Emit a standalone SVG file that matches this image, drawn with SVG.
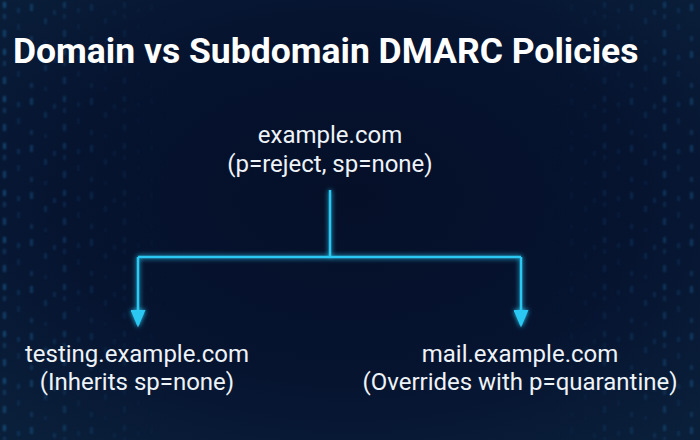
<svg xmlns="http://www.w3.org/2000/svg" width="700" height="440" viewBox="0 0 700 440">
  <defs>
    <radialGradient id="bg" cx="50%" cy="45%" r="70%">
      <stop offset="0" stop-color="#050f28"/>
      <stop offset="0.6" stop-color="#061430"/>
      <stop offset="1" stop-color="#0a1f3a"/>
    </radialGradient>
    <linearGradient id="sideFade" x1="0" y1="0" x2="1" y2="0">
      <stop offset="0" stop-color="#fff" stop-opacity="1"/>
      <stop offset="0.24" stop-color="#fff" stop-opacity="0"/>
      <stop offset="0.78" stop-color="#fff" stop-opacity="0"/>
      <stop offset="1" stop-color="#fff" stop-opacity="0.9"/>
    </linearGradient>
    <mask id="sideMask">
      <rect width="700" height="440" fill="url(#sideFade)"/>
    </mask>
    <pattern id="rain" width="60" height="47" patternUnits="userSpaceOnUse">
      <rect x="3" y="2" width="3" height="6" fill="#2a86c8" opacity="0.4"/>
      <rect x="3" y="14" width="3" height="5" fill="#2a86c8" opacity="0.25"/>
      <rect x="3" y="30" width="3" height="7" fill="#2a86c8" opacity="0.35"/>
      <rect x="17" y="8" width="3" height="5" fill="#1e6aa8" opacity="0.3"/>
      <rect x="17" y="24" width="3" height="6" fill="#1e6aa8" opacity="0.2"/>
      <rect x="30" y="4" width="3" height="7" fill="#2a86c8" opacity="0.35"/>
      <rect x="30" y="36" width="3" height="5" fill="#2a86c8" opacity="0.25"/>
      <rect x="44" y="18" width="3" height="6" fill="#1e6aa8" opacity="0.35"/>
      <rect x="44" y="40" width="3" height="4" fill="#1e6aa8" opacity="0.2"/>
      <rect x="53" y="10" width="3" height="5" fill="#2a86c8" opacity="0.25"/>
    </pattern>
    <filter id="glow" x="-50%" y="-50%" width="200%" height="200%">
      <feGaussianBlur stdDeviation="2.5" result="b"/>
      <feMerge><feMergeNode in="b"/><feMergeNode in="SourceGraphic"/></feMerge>
    </filter>
    <filter id="soft"><feGaussianBlur stdDeviation="1"/></filter>
    <marker id="arrow" markerWidth="7" markerHeight="6" refX="6" refY="3" orient="auto" markerUnits="strokeWidth">
      <path d="M0,0 L7,3 L0,6 Z" fill="#29c8f2"/>
    </marker>
    <style>
      .title { font-family: Roboto, "Liberation Sans", sans-serif; font-weight: 700; font-size: 35.5px; fill: #ffffff; }
      .lbl { font-family: Roboto, "Liberation Sans", sans-serif; font-size: 24px; fill: #eef3f8; text-anchor: middle; }
      .conn { fill: none; stroke: #29c8f2; stroke-width: 2.5; }
    </style>
  </defs>

  <rect width="700" height="440" fill="url(#bg)"/>
  <g mask="url(#sideMask)" filter="url(#soft)">
    <rect width="700" height="440" fill="url(#rain)"/>
  </g>

  <text class="title" x="13" y="63">Domain vs Subdomain DMARC Policies</text>

  <g id="connectors" filter="url(#glow)">
    <path class="conn" d="M330,190 V257"/>
    <path class="conn" d="M138,257 H521"/>
    <path class="conn" d="M138,257 V325" marker-end="url(#arrow)"/>
    <path class="conn" d="M521,257 V325" marker-end="url(#arrow)"/>
  </g>

  <g id="node-root">
    <text class="lbl" x="330" y="143">example.com</text>
    <text class="lbl" x="330" y="172">(p=reject, sp=none)</text>
  </g>
  <g id="node-testing">
    <text class="lbl" x="137" y="362">testing.example.com</text>
    <text class="lbl" x="137" y="390">(Inherits sp=none)</text>
  </g>
  <g id="node-mail">
    <text class="lbl" x="520" y="362">mail.example.com</text>
    <text class="lbl" x="520" y="390">(Overrides with p=quarantine)</text>
  </g>
</svg>
